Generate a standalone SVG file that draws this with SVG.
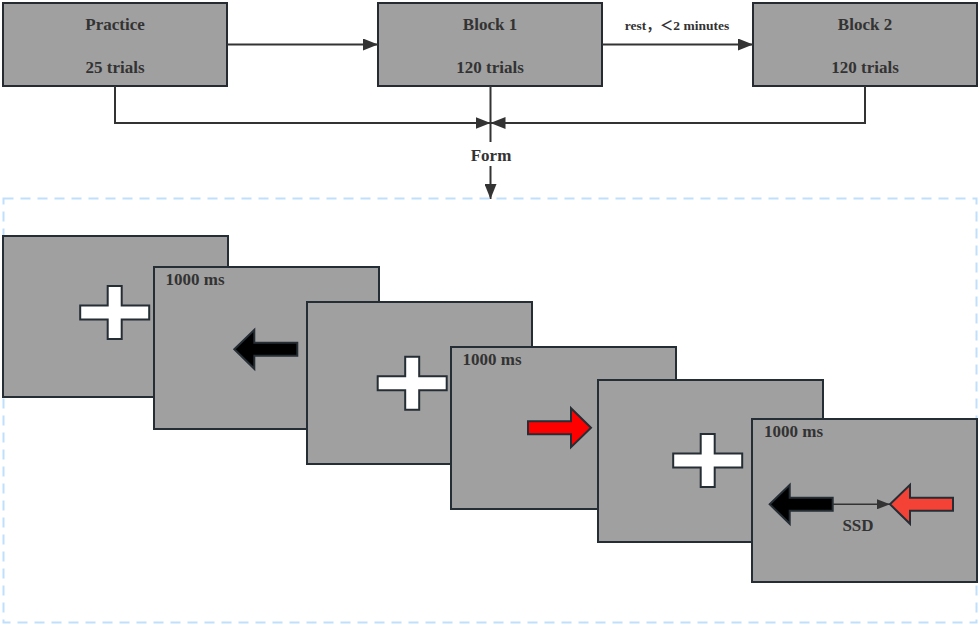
<svg xmlns="http://www.w3.org/2000/svg" width="980" height="626" viewBox="0 0 980 626">
<style>
.box{fill:#a0a0a0;stroke:#262b31;stroke-width:2}
.scr{fill:#a0a0a0;stroke:#252d35;stroke-width:2}
.t{font-family:"Liberation Serif","Times New Roman",serif;font-weight:bold;fill:#333333}
.big{font-size:17px}
.sm{font-size:13.5px}
.conn{fill:none;stroke:#333333;stroke-width:2}
.cross{fill:#ffffff;stroke:#252d35;stroke-width:2}
.arrK{fill:#000000;stroke:#252d35;stroke-width:2}
.arrR{fill:#ff0000;stroke:#252d35;stroke-width:2}
.arrR2{fill:#f44336;stroke:#252d35;stroke-width:2}
</style>
<defs>
<marker id="ah" markerUnits="userSpaceOnUse" markerWidth="15" markerHeight="12" refX="15" refY="6" orient="auto">
<path d="M0,0 L15,6 L0,12 z" fill="#333333"/>
</marker>
<marker id="ahs" markerUnits="userSpaceOnUse" markerWidth="13" markerHeight="10" refX="13" refY="5" orient="auto">
<path d="M0,0 L13,5 L0,10 z" fill="#333333"/>
</marker>
<path id="crossShape" d="M-7,-26.5 H7 V-7 H34.5 V7 H7 V26.5 H-7 V7 H-34.5 V-7 H-7 Z"/>
<path id="arrowL" d="M0,0 L20,-19.5 L20,-6.5 L63,-6.5 L63,6.5 L20,6.5 L20,19.5 Z"/>
</defs>

<g id="practice">
<rect class="box" x="3" y="3" width="224" height="83"/>
<text class="t big" x="115" y="30" text-anchor="middle">Practice</text>
<text class="t big" x="115" y="73" text-anchor="middle">25 trials</text>
</g>
<g id="block1">
<rect class="box" x="378" y="3" width="224" height="83"/>
<text class="t big" x="490" y="30" text-anchor="middle">Block 1</text>
<text class="t big" x="490" y="73" text-anchor="middle">120 trials</text>
</g>
<g id="block2">
<rect class="box" x="753" y="3" width="224" height="83"/>
<text class="t big" x="865" y="30" text-anchor="middle">Block 2</text>
<text class="t big" x="865" y="73" text-anchor="middle">120 trials</text>
</g>

<g id="connectors">
<path class="conn" d="M227,44.5 H378" marker-end="url(#ah)"/>
<path class="conn" d="M602,44.5 H753" marker-end="url(#ah)"/>
<text class="t sm" x="677" y="30" text-anchor="middle" style="font-family:'Liberation Serif','Noto Sans CJK SC',serif">rest，＜2 minutes</text>
<path class="conn" d="M115,86 V123 H490.5" marker-end="url(#ah)"/>
<path class="conn" d="M865,86 V123 H490.5" marker-end="url(#ah)"/>
<path class="conn" d="M490.5,86 V142"/>
<text class="t big" x="491" y="160.5" text-anchor="middle">Form</text>
<path class="conn" d="M490.5,166 V199" marker-end="url(#ah)"/>
</g>

<g id="trial-sequence">
<rect x="3.5" y="198.5" width="973" height="424" fill="none" stroke="#bfe0fb" stroke-width="2" stroke-dasharray="10 7"/>
</g>

<g id="screen1">
<rect class="scr" x="3" y="236" width="225" height="161"/>
<use href="#crossShape" class="cross" transform="translate(114.7,312.5)"/>
</g>
<g id="screen2">
<rect class="scr" x="154" y="267" width="225" height="162"/>
<text class="t big" x="165.5" y="284.5">1000 ms</text>
<use href="#arrowL" class="arrK" transform="translate(234.3,349.3)"/>
</g>
<g id="screen3">
<rect class="scr" x="307" y="302" width="225" height="162"/>
<use href="#crossShape" class="cross" transform="translate(412.2,383.2)"/>
</g>
<g id="screen4">
<rect class="scr" x="451" y="347" width="225" height="162"/>
<text class="t big" x="462.5" y="364.5">1000 ms</text>
<use href="#arrowL" class="arrR" transform="translate(591,427.7) scale(-1,1)"/>
</g>
<g id="screen5">
<rect class="scr" x="598" y="380" width="225" height="162"/>
<use href="#crossShape" class="cross" transform="translate(707.7,460.5)"/>
</g>
<g id="screen6">
<rect class="scr" x="752" y="419" width="225" height="163"/>
<text class="t big" x="764" y="437">1000 ms</text>
<use href="#arrowL" class="arrK" transform="translate(769.7,504.3)"/>
<path d="M832.5,504.3 H890" fill="none" stroke="#333333" stroke-width="1.5" marker-end="url(#ahs)"/>
<use href="#arrowL" class="arrR2" transform="translate(890,504.3)"/>
<text class="t big" x="858" y="531" text-anchor="middle">SSD</text>
</g>
</svg>
